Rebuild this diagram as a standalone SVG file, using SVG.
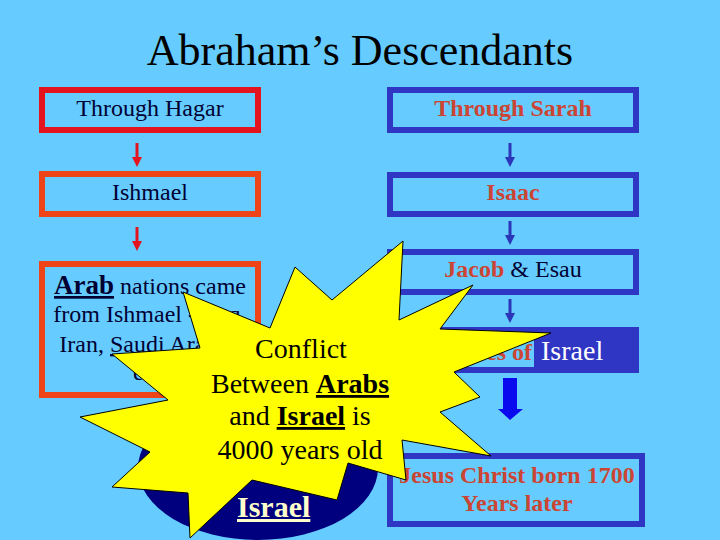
<svg xmlns="http://www.w3.org/2000/svg" width="720" height="540" viewBox="0 0 720 540">
<style>
text{font-family:"Liberation Serif","Times New Roman",serif}
.lbox{fill:none;stroke-width:6}
.red{stroke:#E3141E}
.org{stroke:#EE4418}
.blue{fill:none;stroke:#3036C4;stroke-width:6}
.dk{fill:#000033;font-size:24px}
.rd{fill:#CC4433;font-size:24px;font-weight:bold}
.u{text-decoration:underline}
.b{font-weight:bold}
.star{fill:#FFFF00;stroke:#000;stroke-width:1}
.st{font-size:28px;fill:#000}
</style>
<rect width="720" height="540" fill="#66CCFF"/>
<text x="360" y="65" text-anchor="middle" font-size="44" fill="#000">Abraham’s Descendants</text>

<g id="connectors">
  <g fill="#E3141E" stroke="#E3141E">
    <line x1="137" y1="143" x2="137" y2="159" stroke-width="3"/>
    <polygon points="132,157 142,157 137,167" stroke="none"/>
    <line x1="137" y1="227" x2="137" y2="243" stroke-width="3"/>
    <polygon points="132,241 142,241 137,251" stroke="none"/>
  </g>
  <g fill="#2B36B8" stroke="#2B36B8">
    <line x1="510" y1="143" x2="510" y2="159" stroke-width="3"/>
    <polygon points="505,157 515,157 510,167" stroke="none"/>
    <line x1="510" y1="221" x2="510" y2="237" stroke-width="3"/>
    <polygon points="505,235 515,235 510,245" stroke="none"/>
    <line x1="510" y1="299" x2="510" y2="315" stroke-width="3"/>
    <polygon points="505,313 515,313 510,323" stroke="none"/>
  </g>
  <polygon points="503,378 517,378 517,409 523,409 510,420 498,409 503,409" fill="#0A0AEE"/>
</g>

<g id="hagar">
  <rect class="lbox red" x="42" y="90" width="216" height="40"/>
  <text class="dk" x="150" y="116" text-anchor="middle">Through Hagar</text>
</g>
<g id="ishmael">
  <rect class="lbox org" x="42" y="174" width="216" height="40"/>
  <text class="dk" x="150" y="200" text-anchor="middle">Ishmael</text>
</g>
<g id="arab">
  <rect class="lbox org" x="42" y="264" width="216" height="131"/>
  <text class="dk" x="150" y="294" text-anchor="middle"><tspan class="b u" font-size="27">Arab</tspan> nations came</text>
  <text class="dk" x="150" y="322" text-anchor="middle" font-size="23">from Ishmael - Iraq,</text>
  <text class="dk" x="150" y="352" text-anchor="middle" font-size="23">Iran, <tspan class="u">Saudi Arabia</tspan>,</text>
  <text class="dk" x="150" y="380" text-anchor="middle" font-size="23">etc.</text>
</g>

<g id="sarah">
  <rect class="blue" x="390" y="90" width="246" height="40"/>
  <text class="rd" x="513" y="116" text-anchor="middle">Through Sarah</text>
</g>
<g id="isaac">
  <rect class="blue" x="390" y="175" width="246" height="39"/>
  <text class="rd" x="513" y="200" text-anchor="middle">Isaac</text>
</g>
<g id="jacob">
  <rect class="blue" x="390" y="252" width="246" height="40"/>
  <text class="rd" x="513" y="277" text-anchor="middle">Jacob <tspan font-weight="normal" fill="#000033">&amp; Esau</tspan></text>
</g>
<g id="tribes">
  <rect class="blue" x="390" y="330" width="246" height="40"/>
  <rect x="534" y="327" width="105" height="46" fill="#3036C4"/>
  <text class="rd" x="532" y="360" text-anchor="end">12 Tribes of</text>
  <text x="541" y="360" font-size="28" fill="#FFFFFF">Israel</text>
</g>
<g id="jesus">
  <rect class="blue" x="390" y="456" width="252" height="68"/>
  <text class="rd" x="517" y="483" text-anchor="middle">Jesus Christ born 1700</text>
  <text class="rd" x="517" y="511" text-anchor="middle">Years later</text>
</g>
<g id="israel">
  <ellipse cx="258" cy="468" rx="120" ry="72" fill="#00007F"/>
  <text class="u" x="237" y="517" font-size="30" font-weight="bold" fill="#FFFFCC">Israel</text>
</g>

<g id="conflict">
  <polygon class="star" points="183,292 270,328 295,267 332,300 403,241 399,320 473,285 440,329 551,333 454,372 480,397 440,412 491,456 402,440 406,480 348,463 337,500 252,480 190,538 188,493 112,487 150,452 80,417 168,400 112,354 200,348"/>
  <text class="st" x="301" y="358" text-anchor="middle">Conflict</text>
  <text class="st" x="300" y="393" text-anchor="middle">Between <tspan class="b u">Arabs</tspan></text>
  <text class="st" x="300" y="425" text-anchor="middle">and <tspan class="b u">Israel</tspan> is</text>
  <text class="st" x="300" y="459" text-anchor="middle">4000 years old</text>
</g>
</svg>
